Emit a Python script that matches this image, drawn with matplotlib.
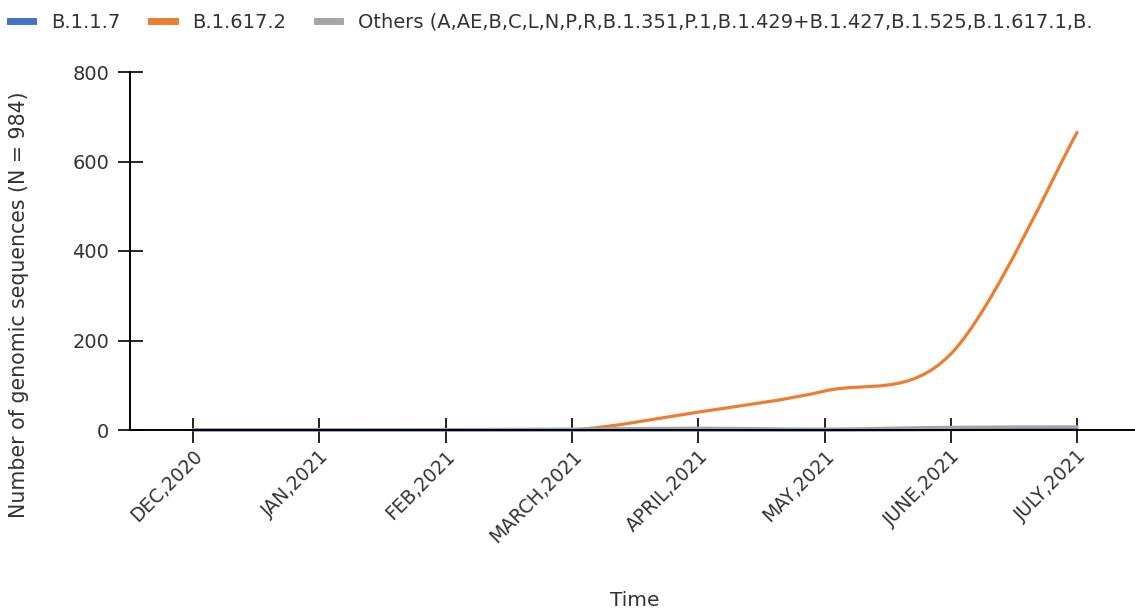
import numpy as np
import matplotlib.pyplot as plt
from matplotlib.path import Path
from matplotlib.patches import PathPatch
from matplotlib.lines import Line2D

months = ['DEC,2020', 'JAN,2021', 'FEB,2021', 'MARCH,2021', 'APRIL,2021',
          'MAY,2021', 'JUNE,2021', 'JULY,2021']
b117 = [0, 0, 0, 0, 0, 0, 1, 2]
b16172 = [0, 0, 0, 0, 40, 87, 170, 665]
others = [1, 1, 1, 2, 4, 2, 6, 7]

series_names = ['B.1.1.7', 'B.1.617.2',
                'Others (A,AE,B,C,L,N,P,R,B.1.351,P.1,B.1.429+B.1.427,B.1.525,B.1.617.1,B.']
colors = ['#4472C4', '#ED7D31', '#A5A5A5']

plt.rcParams['font.family'] = ['DejaVu Sans']
txt_col = '#333333'


def smooth_path(xs, ys):
    # excel-style smoothed line: bezier segments through every data point
    pts = np.column_stack([xs, ys]).astype(float)
    n = len(pts)
    verts = [pts[0]]
    codes = [Path.MOVETO]
    for i in range(n - 1):
        p0 = pts[i - 1] if i > 0 else pts[i]
        p1 = pts[i]
        p2 = pts[i + 1]
        p3 = pts[i + 2] if i + 2 < n else pts[i + 1]
        c1 = p1 + (p2 - p0) / 6.0
        c2 = p2 - (p3 - p1) / 6.0
        verts += [c1, c2, p2]
        codes += [Path.CURVE4] * 3
    return Path(verts, codes)


fig = plt.figure(figsize=(11.35, 6.14), dpi=100)
ax = fig.add_axes([130 / 1135, 1 - 430 / 614, 1 - 130 / 1135, (430 - 72) / 614])

x = np.arange(len(months))
# orange gets clipped at the axis so the spline doesn't dip under zero
for vals, c, clip in [(b117, colors[0], False), (b16172, colors[1], True),
                      (others, colors[2], False)]:
    ax.add_patch(PathPatch(smooth_path(x, vals), facecolor='none', edgecolor=c,
                           lw=2.3, capstyle='round', zorder=3, clip_on=clip))

ax.set_xlim(-0.5, (1135 - 193) / 126.3)
ax.set_ylim(0, 800)
ax.set_yticks([0, 200, 400, 600, 800])
ax.set_xticks(x)
ax.set_xticklabels(months, rotation=45, ha='right', rotation_mode='anchor')

for s in ['top', 'right']:
    ax.spines[s].set_visible(False)
for s in ['left', 'bottom']:
    ax.spines[s].set_linewidth(1.4)
    ax.spines[s].set_color('black')
    ax.spines[s].set_zorder(4)

ax.tick_params(axis='y', direction='inout', length=18, width=1.2, labelsize=14,
               pad=6, labelcolor=txt_col)
ax.tick_params(axis='x', direction='inout', length=18, width=1.2, labelsize=13.5,
               pad=3, labelcolor=txt_col)

fig.text(19 / 1135, 1 - 305 / 614, 'Number of genomic sequences (N = 984)',
         rotation=90, ha='center', va='center', fontsize=14.8, color=txt_col)
fig.text(635 / 1135, 1 - 600 / 614, 'Time', ha='center', va='center',
         fontsize=14.5, color=txt_col)

handles = [Line2D([], [], color=c, lw=5) for c in colors]
fig.legend(handles, series_names, loc='center left',
           bbox_to_anchor=(10 / 1135, 1 - 22 / 614), borderaxespad=0, borderpad=0,
           ncol=3, frameon=False, fontsize=14, handlelength=1.2,
           columnspacing=1.6, handletextpad=0.9, labelcolor=txt_col)

fig.savefig('out.png', dpi=100)
